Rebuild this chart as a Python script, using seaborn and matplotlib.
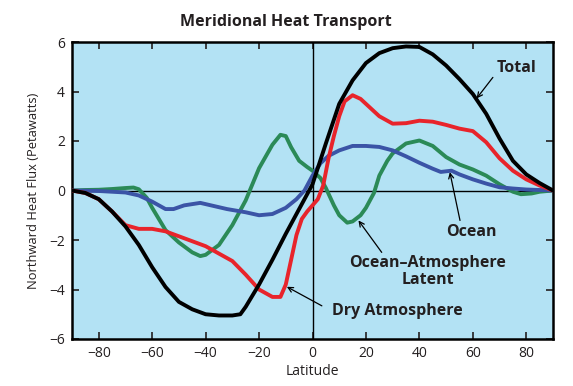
import matplotlib
matplotlib.use("Agg")
import matplotlib.pyplot as plt
import seaborn as sns
import pandas as pd

# ---- data ----
total_lat = [-90, -85, -80, -75, -70, -65, -60, -55, -50, -45, -40, -35, -30, -27, -25, -20, -15, -10, -5, 0,
             5, 10, 15, 20, 25, 30, 35, 40, 45, 50, 55, 60, 65, 70, 75, 80, 85, 90]
total_val = [0, -0.1, -0.35, -0.85, -1.45, -2.2, -3.1, -3.9, -4.5, -4.8, -5.0, -5.05, -5.05, -5.0, -4.7, -3.8, -2.8, -1.75, -0.75, 0.25,
             1.9, 3.5, 4.45, 5.15, 5.55, 5.75, 5.82, 5.8, 5.5, 5.05, 4.5, 3.9, 3.1, 2.1, 1.2, 0.65, 0.3, 0]

dry_lat = [-90, -85, -80, -75, -70, -65, -60, -55, -50, -45, -40, -35, -30, -25, -20, -15, -12, -10, -8, -6, -4, -2, 0,
           2, 4, 6, 8, 10, 12, 15, 18, 20, 25, 30, 35, 40, 45, 50, 55, 60, 65, 70, 75, 80, 85, 90]
dry_val = [0, -0.1, -0.35, -0.85, -1.4, -1.55, -1.55, -1.65, -1.85, -2.05, -2.25, -2.55, -2.85, -3.4, -4.0, -4.3, -4.3, -3.8, -2.8, -1.8, -1.15, -0.85, -0.6,
           -0.35, 0.2, 1.3, 2.2, 3.0, 3.6, 3.85, 3.7, 3.5, 3.0, 2.7, 2.72, 2.82, 2.78, 2.65, 2.5, 2.4, 1.95, 1.3, 0.8, 0.45, 0.2, 0]

latent_lat = [-90, -85, -80, -75, -70, -67, -65, -62, -60, -55, -50, -45, -42, -40, -35, -30, -25, -20, -15, -12, -10, -8, -5, -2, 0,
              3, 5, 8, 10, 13, 15, 18, 20, 23, 25, 28, 30, 35, 40, 45, 50, 55, 60, 65, 70, 75, 78, 82, 85, 90]
latent_val = [0, 0.02, 0.03, 0.06, 0.1, 0.12, 0.05, -0.3, -0.7, -1.6, -2.1, -2.5, -2.65, -2.6, -2.2, -1.4, -0.4, 0.9, 1.85, 2.25, 2.2, 1.75, 1.2, 0.95, 0.8,
              0.5, 0.1, -0.6, -1.0, -1.3, -1.25, -1.0, -0.7, -0.1, 0.6, 1.2, 1.5, 1.9, 2.02, 1.8, 1.35, 1.05, 0.85, 0.6, 0.25, -0.05, -0.15, -0.12, -0.05, 0]

ocean_lat = [-90, -80, -70, -65, -60, -55, -52, -48, -42, -38, -32, -25, -20, -15, -10, -6, -3, 0,
             3, 6, 10, 15, 20, 25, 30, 35, 40, 45, 48, 52, 55, 60, 65, 70, 75, 80, 90]
ocean_val = [0, -0.02, -0.08, -0.2, -0.45, -0.75, -0.75, -0.6, -0.5, -0.6, -0.75, -0.88, -1.0, -0.95, -0.7, -0.35, 0.0, 0.6,
             1.1, 1.4, 1.62, 1.8, 1.8, 1.76, 1.62, 1.38, 1.12, 0.88, 0.75, 0.8, 0.65, 0.45, 0.28, 0.13, 0.08, 0.04, 0]

x_ticks = [-80, -60, -40, -20, 0, 20, 40, 60, 80]
y_ticks = [-6, -4, -2, 0, 2, 4, 6]

title = "Meridional Heat Transport"
x_label = "Latitude"
y_label = "Northward Heat Flux (Petawatts)"

# ---- style ----
sns.set_style("ticks")
plt.rcParams['font.family'] = ['Open Sans', 'DejaVu Sans']
plt.rcParams['axes.unicode_minus'] = True

BG = "#b3e2f4"
C_TOTAL = "#000000"
C_DRY = "#e8242b"
C_LATENT = "#2b8a57"
C_OCEAN = "#3b54a6"
TXT = "#231f20"

fig = plt.figure(figsize=(5.73, 3.86), dpi=100)
ax = fig.add_axes([72 / 573, 1 - 339 / 386, (553 - 72) / 573, (339 - 42) / 386])
ax.set_facecolor(BG)

ax.axhline(0, color="black", lw=1.0, zorder=1)
ax.axvline(0, color="black", lw=1.0, zorder=1)

series = [
    (latent_lat, latent_val, C_LATENT),
    (ocean_lat, ocean_val, C_OCEAN),
    (dry_lat, dry_val, C_DRY),
    (total_lat, total_val, C_TOTAL),
]
for i, (la, va, c) in enumerate(series):
    df = pd.DataFrame({"lat": la, "val": va})
    sns.lineplot(data=df, x="lat", y="val", ax=ax, color=c, lw=2.8,
                 zorder=2 + i, solid_capstyle="round", solid_joinstyle="round")

ax.set_xlim(-90, 90)
ax.set_ylim(-6, 6)
ax.set_xticks(x_ticks)
ax.set_yticks(y_ticks)
ax.tick_params(direction="in", length=5, width=1.2, top=True, right=True,
               labeltop=False, labelright=False, labelsize=10, pad=5, colors=TXT)
for s in ax.spines.values():
    s.set_linewidth(1.8)
    s.set_color("black")
ax.set_xlabel(x_label, fontsize=10, labelpad=2, color=TXT)
ax.set_ylabel(y_label, fontsize=9.3, labelpad=7, color=TXT)

fig.text(286 / 573, 1 - 22 / 386, title, ha="center", va="center",
         fontsize=11.5, fontweight="bold", color=TXT)

arrow = dict(arrowstyle="->", lw=0.9, color="black", shrinkA=0, shrinkB=0,
             mutation_scale=9)
tk = dict(fontsize=11.5, fontweight="bold", color=TXT, ha="center", va="center")

ax.text(76.4, 4.94, "Total", **tk)
ax.annotate("", xy=(61.4, 3.72), xytext=(67.5, 4.57), arrowprops=arrow)
ax.text(59.5, -1.69, "Ocean", **tk)
ax.annotate("", xy=(51.4, 0.74), xytext=(55.2, -1.21), arrowprops=arrow)
ax.text(43.2, -3.28, "Ocean\u2013Atmosphere\nLatent", linespacing=1.05, **tk)
ax.annotate("", xy=(17.2, -1.21), xytext=(25.9, -2.5), arrowprops=arrow)
ax.text(31.6, -4.86, "Dry Atmosphere", **tk)
ax.annotate("", xy=(-9.6, -3.89), xytext=(3.5, -4.66), arrowprops=arrow)

fig.savefig("out.png", dpi=100)
